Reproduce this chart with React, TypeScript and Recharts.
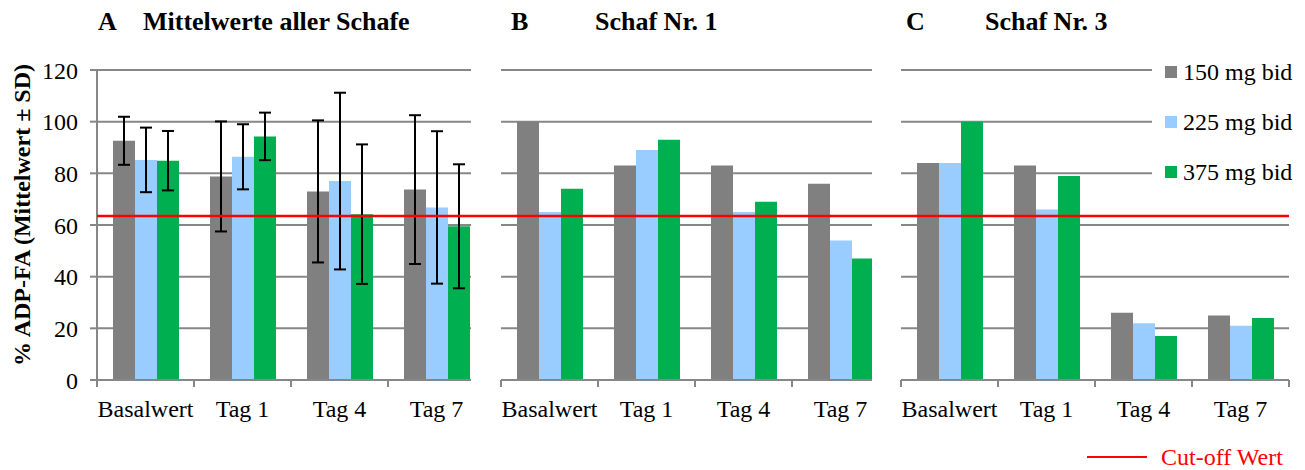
import React from 'react'
import {
  BarChart,
  Bar,
  XAxis,
  YAxis,
  CartesianGrid,
  ErrorBar,
  ComposedChart,
  Line,
  ReferenceLine,
} from 'recharts'

const CATEGORIES = ['Basalwert', 'Tag 1', 'Tag 4', 'Tag 7']

// A: mean of all sheep (± SD)
const MEAN_150 = [92.6, 78.8, 73.0, 73.7]
const SD_150 = [9.3, 21.3, 27.5, 28.8]
const MEAN_225 = [85.2, 86.4, 77.0, 66.8]
const SD_225 = [12.5, 12.6, 34.2, 29.5]
const MEAN_375 = [84.9, 94.3, 64.2, 59.5]
const SD_375 = [11.5, 9.2, 27.0, 24.0]

// B: sheep no. 1
const SHEEP1_150 = [100, 83, 83, 76]
const SHEEP1_225 = [65, 89, 65, 54]
const SHEEP1_375 = [74, 93, 69, 47]

// C: sheep no. 3
const SHEEP3_150 = [84, 83, 26, 25]
const SHEEP3_225 = [84, 66, 22, 21]
const SHEEP3_375 = [100, 79, 17, 24]

const CUTOFF = 63.5
const Y_TICKS = [0, 20, 40, 60, 80, 100, 120]
const SERIES = ['150 mg bid', '225 mg bid', '375 mg bid']

const COLORS = ['#808080', '#99CCFF', '#00B050']
const GRID = '#878787'
const FONT = "'Liberation Serif', 'DejaVu Serif', serif"

const panelA = CATEGORIES.map((name, i) => ({
  name,
  d150: MEAN_150[i],
  e150: SD_150[i],
  d225: MEAN_225[i],
  e225: SD_225[i],
  d375: MEAN_375[i],
  e375: SD_375[i],
}))
const panelB = CATEGORIES.map((name, i) => ({
  name,
  d150: SHEEP1_150[i],
  d225: SHEEP1_225[i],
  d375: SHEEP1_375[i],
}))
const panelC = CATEGORIES.map((name, i) => ({
  name,
  d150: SHEEP3_150[i],
  d225: SHEEP3_225[i],
  d375: SHEEP3_375[i],
}))
const cutoffRows = CATEGORIES.map((name) => ({ name, cutoff: CUTOFF }))

const CHART_H = 430
const TOP = 70
const X_AXIS_H = 50

// category label plus tick marks on the category boundaries (Excel style)
function BoundaryTick(props: any) {
  const { x, y, payload, index, width, visibleTicksCount } = props
  const step = width / visibleTicksCount
  const left = x - step / 2
  const right = x + step / 2
  return (
    <g>
      <line x1={left} y1={y} x2={left} y2={y + 7} stroke={GRID} strokeWidth={2} />
      {index === visibleTicksCount - 1 && (
        <line x1={right} y1={y} x2={right} y2={y + 7} stroke={GRID} strokeWidth={2} />
      )}
      <text
        x={x}
        y={y + 37}
        textAnchor="middle"
        style={{ fontSize: 24, fontFamily: FONT, fill: '#000' }}
      >
        {payload.value}
      </text>
    </g>
  )
}

function Panel({
  data,
  withAxis,
  withErrors,
  marginLeft,
}: {
  data: any[]
  withAxis: boolean
  withErrors: boolean
  marginLeft: number
}) {
  const yWidth = withAxis ? 97 : 0
  const width = marginLeft + yWidth + 388 + 10
  return (
    <BarChart
      width={width}
      height={CHART_H}
      data={data}
      margin={{ top: TOP, right: 10, left: marginLeft, bottom: 0 }}
      barCategoryGap={16}
      barGap={0}
    >
      <CartesianGrid vertical={false} stroke={GRID} strokeWidth={2} />
      <XAxis
        dataKey="name"
        height={X_AXIS_H}
        axisLine={{ stroke: GRID, strokeWidth: 2 }}
        tickLine={false}
        tickSize={0}
        tickMargin={0}
        interval={0}
        tick={<BoundaryTick />}
      />
      <YAxis
        hide={!withAxis}
        width={yWidth}
        domain={[0, 120]}
        ticks={Y_TICKS}
        axisLine={{ stroke: GRID, strokeWidth: 2 }}
        tickLine={{ stroke: GRID, strokeWidth: 2 }}
        tickSize={7}
        tickMargin={12}
        tick={{ fontSize: 24, fontFamily: FONT, fill: '#000', style: { fontFamily: FONT } }}
      />
      {['150', '225', '375'].map((k, i) => (
        <Bar key={k} dataKey={`d${k}`} fill={COLORS[i]} isAnimationActive={false}>
          {withErrors && (
            <ErrorBar dataKey={`e${k}`} width={6} stroke="#000" strokeWidth={2} direction="y" />
          )}
        </Bar>
      ))}
    </BarChart>
  )
}

export default function App() {
  const titleStyle: React.CSSProperties = {
    position: 'absolute',
    top: 9,
    fontFamily: FONT,
    fontWeight: 'bold',
    fontSize: 26,
    lineHeight: '26px',
    whiteSpace: 'nowrap',
  }
  return (
    <div
      style={{
        position: 'absolute',
        left: 0,
        top: 0,
        width: 1305,
        height: 470,
        background: '#fff',
        overflow: 'hidden',
        fontFamily: FONT,
      }}
    >
      <div style={{ ...titleStyle, left: 98 }}>A</div>
      <div style={{ ...titleStyle, left: 143 }}>Mittelwerte aller Schafe</div>
      <div style={{ ...titleStyle, left: 511 }}>B</div>
      <div style={{ ...titleStyle, left: 595 }}>Schaf Nr. 1</div>
      <div style={{ ...titleStyle, left: 906 }}>C</div>
      <div style={{ ...titleStyle, left: 985 }}>Schaf Nr. 3</div>

      <div
        style={{
          position: 'absolute',
          left: 22,
          top: 215,
          width: 340,
          textAlign: 'center',
          transform: 'translate(-50%, -50%) rotate(-90deg)',
          fontWeight: 'bold',
          fontSize: 24,
          lineHeight: '24px',
          whiteSpace: 'nowrap',
        }}
      >
        % ADP-FA (Mittelwert ± SD)
      </div>

      <div style={{ position: 'absolute', left: 0, top: 0, width: 471, height: CHART_H, overflow: 'hidden' }}>
        <Panel data={panelA} withAxis withErrors marginLeft={0} />
      </div>
      <div style={{ position: 'absolute', left: 490, top: 0, width: 382, height: CHART_H, overflow: 'hidden' }}>
        <Panel data={panelB} withAxis={false} withErrors={false} marginLeft={11} />
      </div>
      <div style={{ position: 'absolute', left: 890, top: 0, width: 409, height: CHART_H }}>
        <Panel data={panelC} withAxis={false} withErrors={false} marginLeft={11} />
      </div>

      {/* series legend, its white box hides the upper gridlines of panel C */}
      <div style={{ position: 'absolute', left: 1152, top: 55, width: 153, height: 135, background: '#fff' }}>
        {SERIES.map((s, i) => (
          <div
            key={s}
            style={{
              position: 'absolute',
              left: 13,
              top: 5 + i * 50,
              height: 24,
              display: 'flex',
              alignItems: 'center',
              fontSize: 24,
              lineHeight: '24px',
              whiteSpace: 'nowrap',
            }}
          >
            <span style={{ width: 12, height: 12, background: COLORS[i], marginRight: 6 }} />
            {s}
          </div>
        ))}
      </div>

      {/* cut-off line across all three panels */}
      <div style={{ position: 'absolute', left: 0, top: 0, pointerEvents: 'none' }}>
        <ComposedChart
          width={1305}
          height={CHART_H}
          data={cutoffRows}
          margin={{ top: TOP, right: 16, left: 97, bottom: X_AXIS_H }}
        >
          <XAxis dataKey="name" hide />
          <YAxis hide domain={[0, 120]} />
          <Line dataKey="cutoff" stroke="none" dot={false} activeDot={false} isAnimationActive={false} />
          <ReferenceLine y={CUTOFF} stroke="#FF0000" strokeWidth={2.5} />
        </ComposedChart>
      </div>

      <div
        style={{
          position: 'absolute',
          left: 1087,
          top: 445,
          display: 'flex',
          alignItems: 'center',
          color: '#FF0000',
          fontSize: 24,
          lineHeight: '24px',
          whiteSpace: 'nowrap',
        }}
      >
        <span style={{ width: 60, height: 2.5, background: '#FF0000', marginRight: 14 }} />
        Cut-off Wert
      </div>
    </div>
  )
}
